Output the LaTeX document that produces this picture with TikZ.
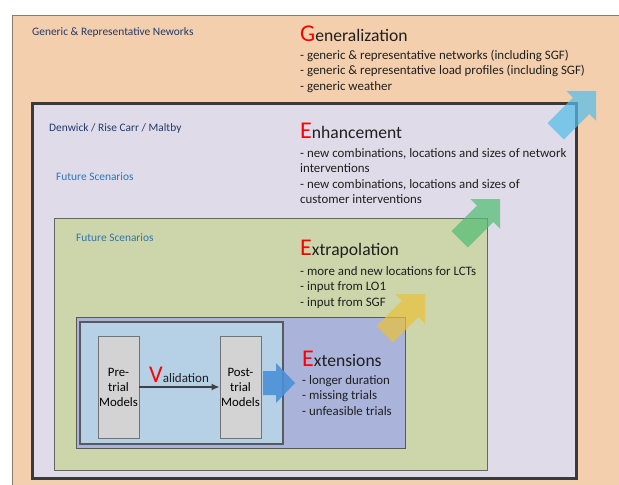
\documentclass[tikz,border=0pt]{standalone}
\usepackage{fontspec}
\setmainfont{Carlito}
\usetikzlibrary{arrows.meta}
\newcommand\bodyfnt{\fontsize{12.9}{15.5}\selectfont}
\newcommand\lblfnt{\fontsize{11.4}{13}\selectfont}
\newcommand\ttlfnt{\fontsize{17.6}{20}\selectfont}
\newcommand\capfnt{\fontsize{24}{26}\selectfont}
\definecolor{orangebg}{HTML}{F4CFAD}
\definecolor{orangeln}{HTML}{8C7B6B}
\definecolor{lavbg}{HTML}{DFDBE8}
\definecolor{darkln}{HTML}{3A3A3A}
\definecolor{greenbg}{HTML}{CDD5AA}
\definecolor{extbg}{HTML}{AAB3DA}
\definecolor{valbg}{HTML}{B6D0E6}
\definecolor{modelbg}{HTML}{D3D3D3}
\definecolor{navytxt}{HTML}{1F3A6E}
\definecolor{bluetxt}{HTML}{2E75B6}
\definecolor{arrblue}{HTML}{55BDEA}
\definecolor{arrgreen}{HTML}{52BD73}
\definecolor{arryellow}{HTML}{E9C23C}
\definecolor{arrext}{HTML}{4A90D6}
\begin{document}
\begin{tikzpicture}[x=1pt,y=-1pt,
  txt/.style={anchor=base west, inner sep=0pt, font=\bodyfnt, text=black!88},
  ttl/.style={anchor=base west, inner sep=0pt, font=\ttlfnt, text=black!88},
  lbl/.style={anchor=west, inner sep=0pt, font=\lblfnt, text=navytxt},
  scen/.style={anchor=west, inner sep=0pt, font=\lblfnt, text=bluetxt},
  modelbox/.style={draw=black!55, fill=modelbg, line width=0.9pt, minimum width=41pt,
    minimum height=102pt, inner sep=0pt, align=center, font=\fontsize{12.8}{15}\selectfont},
  valarrow/.style={draw=black!75, line width=1.4pt, -{Latex[length=8pt,width=7pt]}},
  diagarrow/.pic={\fill[pic actions] (0,0) -- (-21,-21) -- (-21,-11.5) -- (-57,-11.5)
      -- (-57,11.5) -- (-21,11.5) -- (-21,21) -- cycle;}
]
\useasboundingbox (0,0) rectangle (619,485);
\fill[white] (0,0) rectangle (619,485);

% nested scopes, outermost first
\fill[orangebg] (12,15) rectangle (625,492);
\draw[orangeln, line width=1pt] (625,15) -- (12,15) -- (12,492);
\draw[darkln, fill=lavbg, line width=3pt] (32,103) rectangle (576,478);
\draw[black!60, fill=greenbg, line width=1pt] (54,218) rectangle (487,470);
\draw[black!65, fill=extbg, line width=1pt] (76,317) rectangle (405,448);
\draw[black!65, fill=valbg, line width=1.3pt] (80,322) rectangle (283,444);

% scope labels
\node[lbl] (lgen) at (32,32) {Generic \& Representative Neworks};
\node[lbl] (lden) at (49,128) {Denwick / Rise Carr / Maltby};
\node[scen] (lfs1) at (56,177) {Future Scenarios};
\node[scen] (lfs2) at (76,238) {Future Scenarios};

% Generalization
\node[ttl] (tgen) at (300,41) {{\capfnt\textcolor{red}{G}}eneralization};
\node[txt] (g1) at (300,59) {- generic \& representative networks (including SGF)};
\node[txt] (g2) at (300,74.5) {- generic \& representative load profiles (including SGF)};
\node[txt] (g3) at (300,90) {- generic weather};

% Enhancement
\node[ttl] (tenh) at (300,138) {{\capfnt\textcolor{red}{E}}nhancement};
\node[txt] (e1) at (300,157) {- new combinations, locations and sizes of network};
\node[txt] (e2) at (300,172.5) {interventions};
\node[txt] (e3) at (300,188) {- new combinations, locations and sizes of};
\node[txt] (e4) at (300,203.5) {customer interventions};

% Extrapolation
\node[ttl] (text) at (300,255) {{\capfnt\textcolor{red}{E}}xtrapolation};
\node[txt] (x1) at (300,275) {- more and new locations for LCTs};
\node[txt] (x2) at (300,290.5) {- input from LO1};
\node[txt] (x3) at (300,306) {- input from SGF};

% Extensions
\node[ttl] (tens) at (302,366) {{\capfnt\textcolor{red}{E}}xtensions};
\node[txt] (n1) at (302,384) {- longer duration};
\node[txt] (n2) at (302,399.5) {- missing trials};
\node[txt] (n3) at (302,415) {- unfeasible trials};

% validation models
\node[modelbox] (pre) at (118.5,387) {Pre-\\trial\\Models};
\node[modelbox] (post) at (240.5,387) {Post-\\trial\\Models};
\draw[valarrow] (pre) -- (post);
\node[anchor=base west, inner sep=0pt, font=\fontsize{13}{15}\selectfont, text=black!88]
  (val) at (149,382) {{\capfnt\textcolor{red}{V}}alidation};

% block arrow into the extensions
\fill[arrext, opacity=0.9] (263,371) -- (276,371) -- (276,363) -- (295,383)
  -- (276,403) -- (276,395) -- (263,395) -- cycle;

% rising arrows between scopes
\pic[fill=arryellow, fill opacity=0.72, rotate=45] at (425,294) {diagarrow};
\pic[fill=arrgreen, fill opacity=0.72, rotate=45] at (500,199) {diagarrow};
\pic[fill=arrblue, fill opacity=0.72, rotate=45] at (596,91) {diagarrow};
\end{tikzpicture}
\end{document}
